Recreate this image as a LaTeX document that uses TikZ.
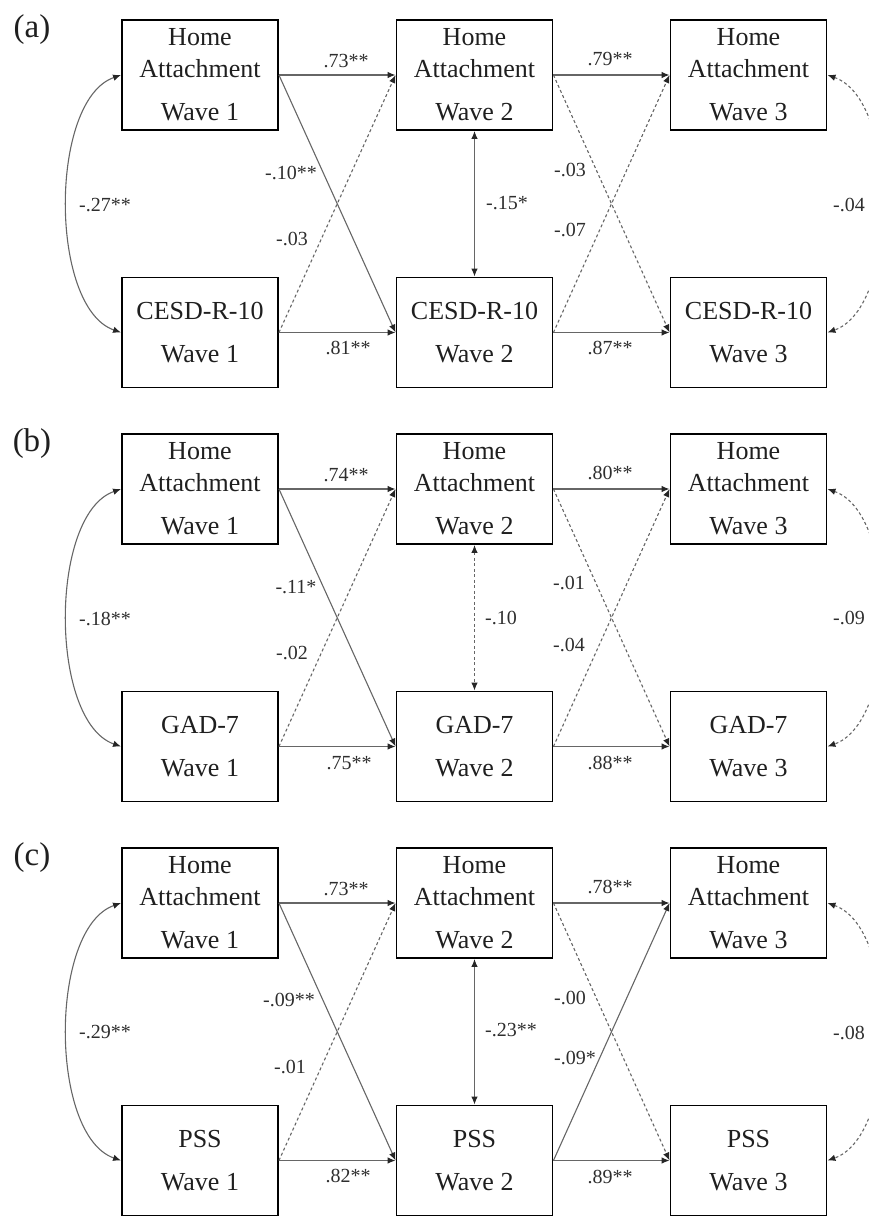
\documentclass[tikz,border=0pt]{standalone}
\usepackage{fontspec}
\setmainfont{Liberation Serif}
\usetikzlibrary{arrows.meta}
\begin{document}
\begin{tikzpicture}[x=1pt,y=-1pt,
  box/.style={draw=black, line width=1.9pt, minimum width=156pt, minimum height=110pt,
    inner sep=0pt, align=center, text=black!88, font=\fontsize{26}{32}\selectfont},
  lbl/.style={inner sep=0pt, text=black!82, font=\fontsize{20}{24}\selectfont},
  plbl/.style={inner sep=0pt, text=black!88, font=\fontsize{33}{36}\selectfont},
  tip/.tip={Latex[length=8pt,width=6.5pt,color=black!85]},
  pth/.style={draw=black!60, line width=1.1pt, -tip},
  dpth/.style={draw=black!60, line width=1.1pt, tip-tip},
  dsh/.style={dash pattern=on 3pt off 2.5pt}]
\useasboundingbox (0,0) rectangle (869,1216);

% ---------------- panel (a)
\begin{scope}
\node[plbl] (aP) at (32,30) {(a)};
\node[box] (aH1) at (200,75) {Home\\Attachment\\[11pt]Wave 1};
\node[box] (aH2) at (474.5,75) {Home\\Attachment\\[11pt]Wave 2};
\node[box] (aH3) at (748.5,75) {Home\\Attachment\\[11pt]Wave 3};
\node[box] (aC1) at (200,332.5) {CESD-R-10\\[11pt]Wave 1};
\node[box] (aC2) at (474.5,332.5) {CESD-R-10\\[11pt]Wave 2};
\node[box] (aC3) at (748.5,332.5) {CESD-R-10\\[11pt]Wave 3};
\draw[pth] (aH1.east) -- (aH2.west);
\draw[pth] (aC1.east) -- (aC2.west);
\draw[pth] (aH1.east) -- (aC2.west);
\draw[pth,dsh] (aC1.east) -- (aH2.west);
\draw[pth] (aH2.east) -- (aH3.west);
\draw[pth] (aC2.east) -- (aC3.west);
\draw[pth,dsh] (aH2.east) -- (aC3.west);
\draw[pth,dsh] (aC2.east) -- (aH3.west);
\draw[dpth] (aH2.south) -- (aC2.north);
\draw[dpth] (aH1.west) .. controls +(-72,25) and +(-72,-25) .. (aC1.west);
\draw[dpth,dsh] (aH3.east) .. controls +(72,25) and +(72,-25) .. (aC3.east);
\node[lbl] (aL1) at (346,61) {.73**};
\node[lbl] (aL2) at (348,348) {.81**};
\node[lbl] (aL3) at (291,173) {-.10**};
\node[lbl] (aL4) at (292,239) {-.03};
\node[lbl] (aL5) at (105,205) {-.27**};
\node[lbl] (aL6) at (507,203) {-.15*};
\node[lbl] (aL7) at (570,170) {-.03};
\node[lbl] (aL8) at (570,230) {-.07};
\node[lbl] (aL9) at (610,59) {.79**};
\node[lbl] (aL10) at (610,348) {.87**};
\node[lbl] (aL11) at (849,205) {-.04};
\end{scope}

% ---------------- panel (b)
\begin{scope}[shift={(0,414)}]
\node[plbl] (bP) at (32,30) {(b)};
\node[box] (bH1) at (200,75) {Home\\Attachment\\[11pt]Wave 1};
\node[box] (bH2) at (474.5,75) {Home\\Attachment\\[11pt]Wave 2};
\node[box] (bH3) at (748.5,75) {Home\\Attachment\\[11pt]Wave 3};
\node[box] (bC1) at (200,332.5) {GAD-7\\[11pt]Wave 1};
\node[box] (bC2) at (474.5,332.5) {GAD-7\\[11pt]Wave 2};
\node[box] (bC3) at (748.5,332.5) {GAD-7\\[11pt]Wave 3};
\draw[pth] (bH1.east) -- (bH2.west);
\draw[pth] (bC1.east) -- (bC2.west);
\draw[pth] (bH1.east) -- (bC2.west);
\draw[pth,dsh] (bC1.east) -- (bH2.west);
\draw[pth] (bH2.east) -- (bH3.west);
\draw[pth] (bC2.east) -- (bC3.west);
\draw[pth,dsh] (bH2.east) -- (bC3.west);
\draw[pth,dsh] (bC2.east) -- (bH3.west);
\draw[dpth,dsh] (bH2.south) -- (bC2.north);
\draw[dpth] (bH1.west) .. controls +(-72,25) and +(-72,-25) .. (bC1.west);
\draw[dpth,dsh] (bH3.east) .. controls +(72,25) and +(72,-25) .. (bC3.east);
\node[lbl] (bL1) at (346,61) {.74**};
\node[lbl] (bL2) at (349,349) {.75**};
\node[lbl] (bL3) at (296,173) {-.11*};
\node[lbl] (bL4) at (292,239) {-.02};
\node[lbl] (bL5) at (105,205) {-.18**};
\node[lbl] (bL6) at (501,204) {-.10};
\node[lbl] (bL7) at (569,169) {-.01};
\node[lbl] (bL8) at (569,231) {-.04};
\node[lbl] (bL9) at (610,59) {.80**};
\node[lbl] (bL10) at (610,349) {.88**};
\node[lbl] (bL11) at (849,204) {-.09};
\end{scope}

% ---------------- panel (c)
\begin{scope}[shift={(0,828)}]
\node[plbl] (cP) at (32,30) {(c)};
\node[box] (cH1) at (200,75) {Home\\Attachment\\[11pt]Wave 1};
\node[box] (cH2) at (474.5,75) {Home\\Attachment\\[11pt]Wave 2};
\node[box] (cH3) at (748.5,75) {Home\\Attachment\\[11pt]Wave 3};
\node[box] (cC1) at (200,332.5) {PSS\\[11pt]Wave 1};
\node[box] (cC2) at (474.5,332.5) {PSS\\[11pt]Wave 2};
\node[box] (cC3) at (748.5,332.5) {PSS\\[11pt]Wave 3};
\draw[pth] (cH1.east) -- (cH2.west);
\draw[pth] (cC1.east) -- (cC2.west);
\draw[pth] (cH1.east) -- (cC2.west);
\draw[pth,dsh] (cC1.east) -- (cH2.west);
\draw[pth] (cH2.east) -- (cH3.west);
\draw[pth] (cC2.east) -- (cC3.west);
\draw[pth,dsh] (cH2.east) -- (cC3.west);
\draw[pth] (cC2.east) -- (cH3.west);
\draw[dpth] (cH2.south) -- (cC2.north);
\draw[dpth] (cH1.west) .. controls +(-72,25) and +(-72,-25) .. (cC1.west);
\draw[dpth,dsh] (cH3.east) .. controls +(72,25) and +(72,-25) .. (cC3.east);
\node[lbl] (cL1) at (346,61) {.73**};
\node[lbl] (cL2) at (348,348) {.82**};
\node[lbl] (cL3) at (289,172) {-.09**};
\node[lbl] (cL4) at (290,239) {-.01};
\node[lbl] (cL5) at (105,204) {-.29**};
\node[lbl] (cL6) at (511,202) {-.23**};
\node[lbl] (cL7) at (570,170) {-.00};
\node[lbl] (cL8) at (575,230) {-.09*};
\node[lbl] (cL9) at (610,59) {.78**};
\node[lbl] (cL10) at (610,349) {.89**};
\node[lbl] (cL11) at (849,205) {-.08};
\end{scope}
\end{tikzpicture}
\end{document}
